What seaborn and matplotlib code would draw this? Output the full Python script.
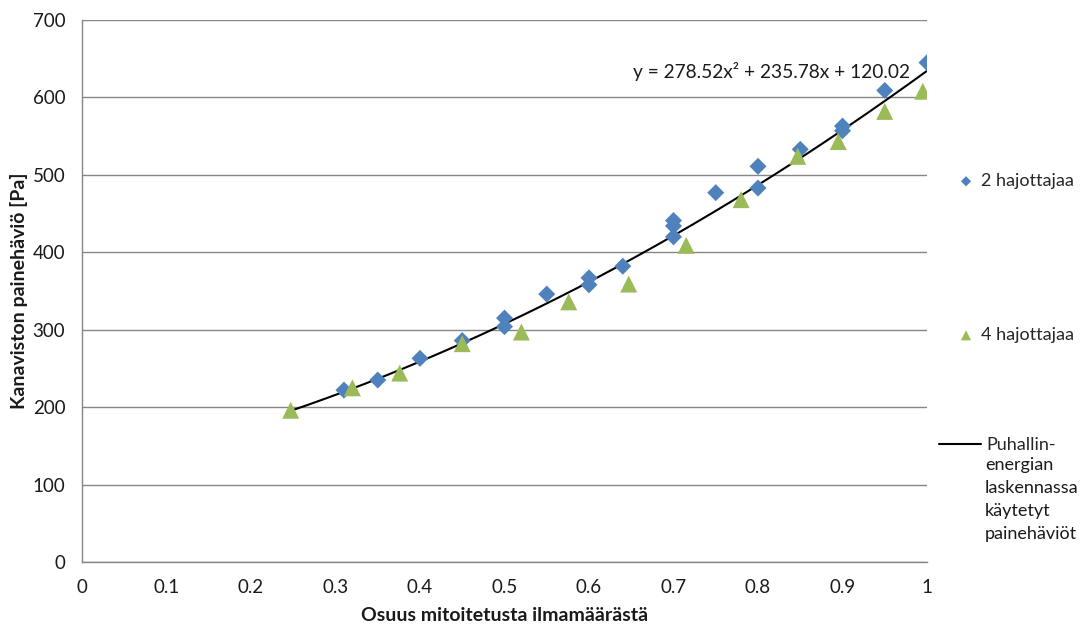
import matplotlib
matplotlib.use("Agg")
import matplotlib.pyplot as plt
from matplotlib.ticker import FuncFormatter, MultipleLocator
import numpy as np
import seaborn as sns

# data
x_2hajottajaa = [0.31, 0.35, 0.40, 0.45, 0.50, 0.50, 0.55, 0.60, 0.60, 0.64,
                 0.70, 0.70, 0.70, 0.75, 0.80, 0.80, 0.85, 0.90, 0.90, 0.95, 1.00]
y_2hajottajaa = [222, 235, 263, 286, 315, 304, 346, 367, 358, 382,
                 441, 434, 420, 477, 511, 483, 533, 563, 557, 609, 645]

x_4hajottajaa = [0.247, 0.32, 0.376, 0.45, 0.52, 0.576, 0.647, 0.715, 0.78, 0.847,
                 0.895, 0.95, 0.995]
y_4hajottajaa = [196, 225, 244, 282, 297, 336, 359, 409, 468, 524, 543, 582, 608]

# trendline coefficients shown on the chart (a, b, c)
trend_coef = [278.52, 235.78, 120.02]
trend_range = [0.247, 1.0]

blue = "#4F81BD"
green = "#9BBB59"
gray = "#868686"
txt = "#1a1a1a"

sns.set_style("white")
plt.rcParams['font.family'] = ['Lato', 'DejaVu Sans']
plt.rcParams['font.size'] = 13

fig = plt.figure(figsize=(10.9, 6.25), dpi=100)
ax = fig.add_axes([82 / 1090, 1 - 562 / 625, (927 - 82) / 1090, (562 - 20) / 625])

tx = np.linspace(trend_range[0], trend_range[1], 200)
ty = np.polyval(trend_coef, tx)
sns.lineplot(x=tx, y=ty, ax=ax, color="black", linewidth=1.5,
             label="Puhallin-", zorder=2)
sns.scatterplot(x=x_2hajottajaa, y=y_2hajottajaa, ax=ax, marker="D", s=75,
                color=blue, edgecolor="none", label="2 hajottajaa", zorder=3)
sns.scatterplot(x=x_4hajottajaa, y=y_4hajottajaa, ax=ax, marker="^", s=150,
                color=green, edgecolor="none", label="4 hajottajaa", zorder=4)

handles, labels = ax.get_legend_handles_labels()
if ax.get_legend() is not None:
    ax.get_legend().remove()
hmap = dict(zip(labels, handles))

ax.set_xlim(0, 1)
ax.set_ylim(0, 700)
ax.xaxis.set_major_locator(MultipleLocator(0.1))
ax.yaxis.set_major_locator(MultipleLocator(100))
ax.xaxis.set_major_formatter(FuncFormatter(lambda v, p: "%g" % round(v, 2)))
ax.grid(axis="y", color=gray, linewidth=1)
ax.set_axisbelow(True)
for s in ["top", "right"]:
    ax.spines[s].set_visible(False)
for s in ["left", "bottom"]:
    ax.spines[s].set_color(gray)
    ax.spines[s].set_linewidth(1)
ax.tick_params(axis="both", colors=gray, labelcolor=txt, labelsize=13.5,
               length=5, width=1, direction="out")
ax.tick_params(axis="x", pad=7)
ax.tick_params(axis="y", pad=7)

ax.set_xlabel("Osuus mitoitetusta ilmamäärästä", fontsize=14, fontweight="bold",
              labelpad=8, color=txt)
ax.set_ylabel("Kanaviston painehäviö [Pa]", fontsize=14, fontweight="bold",
              labelpad=3, color=txt)

ax.text(0.652, 633, "y = 278.52x² + 235.78x + 120.02", fontsize=13.8,
        va="center", ha="left", color=txt)

# legend entries placed individually like the Excel layout
def add_entry(label, ypix, xpix, hl=1.0):
    fig.legend([hmap[label]], [label], loc="center left",
               bbox_to_anchor=(xpix / 1090, 1 - ypix / 625),
               frameon=False, fontsize=13, handlelength=hl, handletextpad=0.35,
               borderaxespad=0, borderpad=0, markerscale=0.6)

add_entry("2 hajottajaa", 181, 957)
add_entry("4 hajottajaa", 335, 957)
add_entry("Puhallin-", 445, 939, hl=2.3)
fig.text(985 / 1090, 1 - 457 / 625, "energian\nlaskennassa\nkäytetyt\npainehäviöt",
         fontsize=13, va="top", ha="left", linespacing=1.55, color=txt)

fig.savefig("out.png", dpi=100)
